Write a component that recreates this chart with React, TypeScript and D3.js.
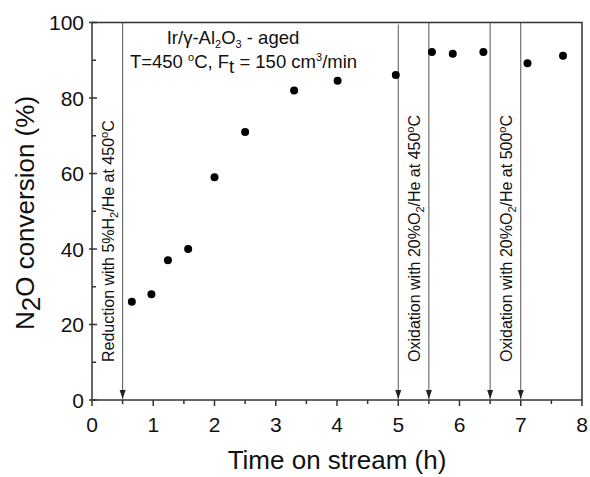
import React from "react";
import * as d3 from "d3";

const timeH = [0.65, 0.97, 1.24, 1.57, 2.0, 2.5, 3.3, 4.01, 4.96, 5.55, 5.89, 6.39, 7.11, 7.69];
const conversion = [26, 28, 37, 40, 59, 71, 82, 84.6, 86.1, 92.2, 91.7, 92.2, 89.2, 91.2];
const xTicks = [0, 1, 2, 3, 4, 5, 6, 7, 8];
const yTicks = [0, 20, 40, 60, 80, 100];
const arrowTimes = [0.5, 5, 5.5, 6.5, 7];
const treatments = [
  { x: 0.5, main: "Reduction with 5%H", sub: "2", rest: "/He at 450", deg: "o", end: "C" },
  { x: 5.5, main: "Oxidation with 20%O", sub: "2", rest: "/He at 450", deg: "o", end: "C" },
  { x: 7, main: "Oxidation with 20%O", sub: "2", rest: "/He at 500", deg: "o", end: "C" },
];

const W = 590, H = 477;
const L = 92, R = 582, T = 22.5, B = 400;
const FONT = "Liberation Sans, Arial, sans-serif";
const AX = "#333";

export default function App() {
  const x = d3.scaleLinear().domain([0, 8]).range([L, R]);
  const y = d3.scaleLinear().domain([0, 100]).range([B, T]);
  const xMinor = d3.range(0.5, 8, 1);
  const yMinor = d3.range(10, 100, 20);
  return (
    <svg width={W} height={H} style={{ position: "absolute", left: 0, top: 0 }} fontFamily={FONT}>
      <rect x={0} y={0} width={W} height={H} fill="#fff" />
      {/* annotation lines */}
      {arrowTimes.map((t, i) => (
        <g key={"a" + i}>
          <line x1={x(t)} x2={x(t)} y1={t === 5 ? T + 2 : T} y2={B - 1} stroke="#555" strokeWidth={1} />
          <path d={`M${x(t) - 3},${B - 10} L${x(t) + 3},${B - 10} L${x(t)},${B - 1} Z`} fill="#222" />
        </g>
      ))}
      {treatments.map((tr, i) => {
        const cx = x(tr.x) - 15;
        const cy = 362;
        return (
          <text key={"t" + i} transform={`translate(${cx},${cy}) rotate(-90)`} fontSize={16} fill="#111" dy={6}>
            {tr.main}
            <tspan fontSize={11} dy={4}>{tr.sub}</tspan>
            <tspan dy={-4}>{tr.rest}</tspan>
            <tspan fontSize={11} dy={-6}>{tr.deg}</tspan>
            <tspan dy={6}>{tr.end}</tspan>
          </text>
        );
      })}
      {/* frame */}
      <rect x={L} y={T} width={R - L} height={B - T} fill="none" stroke={AX} strokeWidth={1.5} />
      {/* x ticks */}
      {xTicks.map((t) => (
        <g key={"xt" + t}>
          <line x1={x(t)} x2={x(t)} y1={B} y2={B + 6} stroke={AX} strokeWidth={1.5} />
          <text x={x(t)} y={B + 32} textAnchor="middle" fontSize={21} fill="#111">{t}</text>
        </g>
      ))}
      {xMinor.map((t) => (
        <line key={"xm" + t} x1={x(t)} x2={x(t)} y1={B} y2={B + 4} stroke={AX} strokeWidth={1.5} />
      ))}
      {/* y ticks */}
      {yTicks.map((t) => (
        <g key={"yt" + t}>
          <line x1={L - 3} x2={L + 5} y1={y(t)} y2={y(t)} stroke={AX} strokeWidth={1.5} />
          <text x={L - 8} y={y(t) + 7.5} textAnchor="end" fontSize={21} fill="#111">{t}</text>
        </g>
      ))}
      {yMinor.map((t) => (
        <line key={"ym" + t} x1={L} x2={L + 4} y1={y(t)} y2={y(t)} stroke={AX} strokeWidth={1.5} />
      ))}
      {/* data */}
      {timeH.map((t, i) => (
        <circle key={"p" + i} cx={x(t)} cy={y(conversion[i])} r={4} fill="#000" />
      ))}
      {/* top annotation */}
      <text x={233} y={44} textAnchor="middle" fontSize={18.5} fill="#111">
        Ir/γ-Al<tspan fontSize={11} dy={4}>2</tspan><tspan dy={-4}>O</tspan><tspan fontSize={11} dy={4}>3</tspan><tspan dy={-4}> - aged</tspan>
      </text>
      <text x={243.5} y={68} textAnchor="middle" fontSize={18.5} fill="#111">
        T=450 <tspan fontSize={11} dy={-7}>o</tspan><tspan dy={7}>C, F</tspan><tspan fontSize={18.5} dy={5}>t</tspan><tspan dy={-5}> = 150 cm</tspan><tspan fontSize={11} dy={-7}>3</tspan><tspan dy={7}>/min</tspan>
      </text>
      {/* axis titles */}
      <text x={337} y={469} textAnchor="middle" fontSize={26} fill="#111">Time on stream (h)</text>
      <text transform={`translate(34,213) rotate(-90)`} textAnchor="middle" fontSize={26} fill="#111">
        N<tspan dy={6}>2</tspan><tspan dy={-6}>O conversion (%)</tspan>
      </text>
    </svg>
  );
}
